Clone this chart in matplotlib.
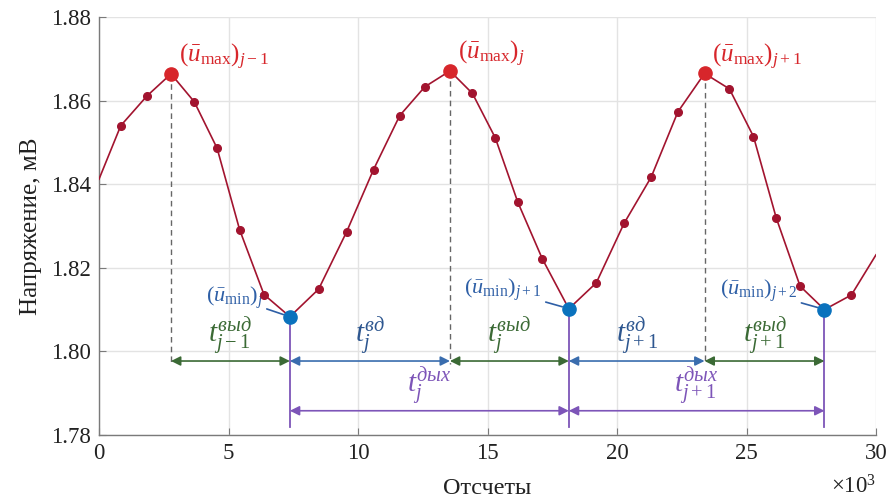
import matplotlib
matplotlib.use("Agg")
import matplotlib.pyplot as plt

plt.rcParams['font.family'] = ['Liberation Serif', 'DejaVu Serif']
plt.rcParams['mathtext.fontset'] = 'custom'
plt.rcParams['mathtext.rm'] = 'Liberation Serif'
plt.rcParams['mathtext.it'] = 'Liberation Serif:italic'
plt.rcParams['mathtext.bf'] = 'Liberation Serif:bold'

# ---- data (x in thousands of samples, voltage in mV) ----
samples_k = [0.00, 0.84, 1.85, 2.78, 3.68, 4.56, 5.43, 6.37, 7.37, 8.48, 9.56,
             10.60, 11.61, 12.58, 13.55, 14.42, 15.30, 16.17, 17.12, 18.14,
             19.20, 20.27, 21.32, 22.35, 23.38, 24.34, 25.27, 26.15, 27.07,
             28.01, 29.05, 30.00]
voltage = [1.8412, 1.8540, 1.8611, 1.8664, 1.8597, 1.8486, 1.8291, 1.8136,
           1.8083, 1.8149, 1.8286, 1.8435, 1.8564, 1.8633, 1.8671, 1.8617,
           1.8511, 1.8357, 1.8221, 1.8102, 1.8164, 1.8306, 1.8417, 1.8573,
           1.8665, 1.8628, 1.8514, 1.8319, 1.8156, 1.8100, 1.8135, 1.8231]
max_idx = [3, 14, 24]
min_idx = [8, 19, 29]
max_labels = [r'$(\bar{u}_{\mathrm{max}})_{j-1}$', r'$(\bar{u}_{\mathrm{max}})_{j}$',
              r'$(\bar{u}_{\mathrm{max}})_{j+1}$']
min_labels = [r'$(\bar{u}_{\mathrm{min}})_{j}$', r'$(\bar{u}_{\mathrm{min}})_{j+1}$',
              r'$(\bar{u}_{\mathrm{min}})_{j+2}$']
exh_labels = [r'$t_{j-1}^{\mathit{выд}}$', r'$t_{j}^{\mathit{выд}}$', r'$t_{j+1}^{\mathit{выд}}$']
inh_labels = [r'$t_{j}^{\mathit{вд}}$', r'$t_{j+1}^{\mathit{вд}}$']
br_labels = [r'$t_{j}^{\mathit{дых}}$', r'$t_{j+1}^{\mathit{дых}}$']

xticks = [0, 5, 10, 15, 20, 25, 30]
yticks = [1.78, 1.80, 1.82, 1.84, 1.86, 1.88]

# ---- styles ----
c_line = '#A2142F'
c_max = '#D7262B'
c_min = '#0A72BD'
c_green = '#3B6A35'
c_blue = '#3A6DAE'
c_purple = '#7D55B8'

fig = plt.figure(figsize=(8.9, 5.03), dpi=100)
ax = fig.add_axes([99/890, 1-435/503, (876-99)/890, (435-17)/503])

ax.set_xlim(0, 30)
ax.set_ylim(1.78, 1.88)
ax.set_xticks(xticks)
ax.set_yticks(yticks)
ax.set_yticklabels([f'{v:.2f}' for v in yticks])
ax.grid(True, color='#e3e3e3', lw=1.0)
ax.set_axisbelow(True)
for s in ['top', 'right']:
    ax.spines[s].set_visible(False)
for s in ['left', 'bottom']:
    ax.spines[s].set_color('#7a7a7a')
    ax.spines[s].set_linewidth(1.0)
ax.tick_params(direction='in', length=5, color='#7a7a7a', labelsize=16.5,
               labelcolor='#222222', pad=6)

ax.set_ylabel('Напряжение, мВ', fontsize=18, color='#222222', labelpad=6)
ax.set_xlabel('Отсчеты', fontsize=17.5, color='#222222', labelpad=10)
ax.text(1.0, -0.125, r'$\times10^{3}$', transform=ax.transAxes, ha='right',
        va='center', fontsize=16.5, color='#222222')

# main curve
ax.plot(samples_k, voltage, color=c_line, lw=1.2, zorder=3)
inner = [i for i in range(1, len(samples_k) - 1) if i not in max_idx + min_idx]
ax.plot([samples_k[i] for i in inner], [voltage[i] for i in inner], 'o',
        color=c_line, ms=5.5, zorder=4)

y_row1 = 1.7977
y_row2 = 1.7858

# dashed lines from maxima
for i in max_idx:
    ax.plot([samples_k[i], samples_k[i]], [voltage[i], y_row1 - 0.0006],
            ls=(0, (4, 3)), color='#666666', lw=1.0, zorder=2)
# purple verticals from minima
for i in min_idx:
    ax.plot([samples_k[i], samples_k[i]], [voltage[i], 1.7818],
            color=c_purple, lw=1.3, zorder=2)

ax.plot([samples_k[i] for i in max_idx], [voltage[i] for i in max_idx], 'o',
        color=c_max, ms=9.5, zorder=5)
ax.plot([samples_k[i] for i in min_idx], [voltage[i] for i in min_idx], 'o',
        color=c_min, ms=9.5, zorder=5)

# max labels
for i, lab in zip(max_idx, max_labels):
    ax.text(samples_k[i] + 0.3, voltage[i] + 0.0040, lab, color=c_max,
            fontsize=18, ha='left', va='center')

# min labels with leader lines
for i, lab in zip(min_idx, min_labels):
    ax.annotate(lab, xy=(samples_k[i] - 0.15, voltage[i] + 0.0003),
                xytext=(samples_k[i] - 1.05, voltage[i] + 0.0045),
                color='#2E5FA6', fontsize=16, ha='right', va='center',
                arrowprops=dict(arrowstyle='-', color='#2E5FA6', lw=1.2,
                                shrinkA=1, shrinkB=2))


def harrow(x0, x1, y, color):
    ax.annotate('', xy=(x1, y), xytext=(x0, y),
                arrowprops=dict(arrowstyle='<|-|>', color=color, lw=1.2,
                                mutation_scale=14, shrinkA=0, shrinkB=0),
                zorder=4)


# exhalation (green) and inhalation (blue) arrows
for k in range(3):
    x0 = samples_k[max_idx[k]]
    x1 = samples_k[min_idx[k]]
    harrow(x0, x1, y_row1, c_green)
    ax.text((x0 + x1) / 2, y_row1 + 0.0010, exh_labels[k], color=c_green,
            fontsize=21, ha='center', va='bottom')
for k in range(2):
    x0 = samples_k[min_idx[k]]
    x1 = samples_k[max_idx[k + 1]]
    harrow(x0, x1, y_row1, c_blue)
    ax.text((x0 + x1) / 2, y_row1 + 0.0010, inh_labels[k], color='#2E5790',
            fontsize=21, ha='center', va='bottom')
for k in range(2):
    x0 = samples_k[min_idx[k]]
    x1 = samples_k[min_idx[k + 1]]
    harrow(x0, x1, y_row2, c_purple)
    ax.text((x0 + x1) / 2, y_row2 + 0.0010, br_labels[k], color=c_purple,
            fontsize=21, ha='center', va='bottom')

fig.savefig('out.png', dpi=100)
